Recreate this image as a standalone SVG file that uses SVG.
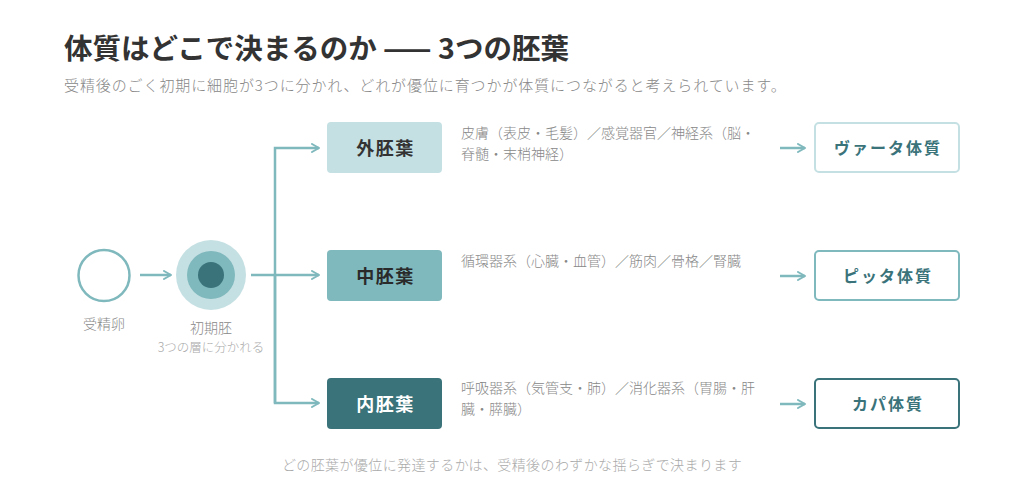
<svg xmlns="http://www.w3.org/2000/svg" width="1024" height="499" viewBox="0 0 1024 499">
<style>
text{font-family:"Noto Sans CJK JP","Noto Sans",sans-serif;}
.title{font-size:28.5px;font-weight:700;fill:#333;}
.sub{font-size:15px;font-weight:300;fill:#888;letter-spacing:0.9px;}
.lbl{font-size:14px;font-weight:300;fill:#888;text-anchor:middle;}
.lbl2{font-size:12.5px;font-weight:300;fill:#aaa;text-anchor:middle;}
.desc{font-size:14px;font-weight:300;fill:#888;}
.layer{font-size:18px;font-weight:700;text-anchor:middle;letter-spacing:1.5px;}
.res{font-size:16px;font-weight:700;fill:#3a737a;text-anchor:middle;letter-spacing:2px;}
.foot{font-size:14px;font-weight:300;fill:#aaa;text-anchor:middle;letter-spacing:0.4px;}
.conn{fill:none;stroke:#7fb8bd;stroke-width:2.5;}
</style>
<defs>
<marker id="ah" viewBox="0 0 10 10" refX="8" refY="5" markerWidth="4" markerHeight="4" orient="auto" markerUnits="strokeWidth">
<polyline points="1,1 8,5 1,9" fill="none" stroke="#7fb8bd" stroke-width="2" stroke-linecap="round" stroke-linejoin="round"/>
</marker>
</defs>
<rect width="1024" height="499" fill="#fff"/>
<g id="header">
<text class="title" x="64" y="59">体質はどこで決まるのか —— 3つの胚葉</text>
<text class="sub" x="64" y="91">受精後のごく初期に細胞が3つに分かれ、どれが優位に育つかが体質につながると考えられています。</text>
</g>
<g id="connectors">
<line class="conn" x1="140" y1="275" x2="171" y2="275" marker-end="url(#ah)"/>
<line class="conn" x1="251" y1="275" x2="319" y2="275" marker-end="url(#ah)"/>
<polyline class="conn" points="275,403 275,148 319,148" marker-end="url(#ah)"/>
<polyline class="conn" points="275,275 275,403 319,403" marker-end="url(#ah)"/>
<line class="conn" x1="780" y1="148" x2="805" y2="148" marker-end="url(#ah)"/>
<line class="conn" x1="780" y1="276" x2="805" y2="276" marker-end="url(#ah)"/>
<line class="conn" x1="780" y1="404" x2="805" y2="404" marker-end="url(#ah)"/>
</g>
<g id="zygote">
<circle cx="104" cy="275.5" r="25.5" fill="#fff" stroke="#7fb8bd" stroke-width="2.5"/>
<text class="lbl" x="104" y="328.5">受精卵</text>
</g>
<g id="embryo">
<circle cx="211" cy="275" r="35" fill="#c5e0e3"/>
<circle cx="211" cy="275" r="24" fill="#7fb8bd"/>
<circle cx="211" cy="275" r="13" fill="#3a737a"/>
<text class="lbl" x="211" y="333">初期胚</text>
<text class="lbl2" x="211" y="352">3つの層に分かれる</text>
</g>
<g id="ectoderm">
<rect x="327" y="122" width="115" height="51" rx="4" fill="#c5e0e3"/>
<text class="layer" x="385.5" y="154.5" fill="#333">外胚葉</text>
<text class="desc" x="461" y="138">皮膚（表皮・毛髪）／感覚器官／神経系（脳・</text>
<text class="desc" x="461" y="159">脊髄・末梢神経）</text>
</g>
<g id="mesoderm">
<rect x="327" y="250" width="115" height="51" rx="4" fill="#7fb8bd"/>
<text class="layer" x="385.5" y="282.5" fill="#2a2a2a">中胚葉</text>
<text class="desc" x="461" y="266">循環器系（心臓・血管）／筋肉／骨格／腎臓</text>
</g>
<g id="endoderm">
<rect x="327" y="378" width="115" height="51" rx="4" fill="#3a737a"/>
<text class="layer" x="385.5" y="410.5" fill="#fff">内胚葉</text>
<text class="desc" x="461" y="393">呼吸器系（気管支・肺）／消化器系（胃腸・肝</text>
<text class="desc" x="461" y="414">臓・膵臓）</text>
</g>
<g id="vata">
<rect x="815" y="123" width="144" height="49" rx="4" fill="#fff" stroke="#c5e0e3" stroke-width="2"/>
<text class="res" x="888" y="153.5">ヴァータ体質</text>
</g>
<g id="pitta">
<rect x="815" y="251" width="144" height="49" rx="4" fill="#fff" stroke="#7fb8bd" stroke-width="2"/>
<text class="res" x="888" y="281.5">ピッタ体質</text>
</g>
<g id="kapha">
<rect x="815" y="379" width="144" height="49" rx="4" fill="#fff" stroke="#3a737a" stroke-width="2"/>
<text class="res" x="888" y="409.5">カパ体質</text>
</g>
<g id="footer">
<text class="foot" x="512" y="470">どの胚葉が優位に発達するかは、受精後のわずかな揺らぎで決まります</text>
</g>
</svg>
